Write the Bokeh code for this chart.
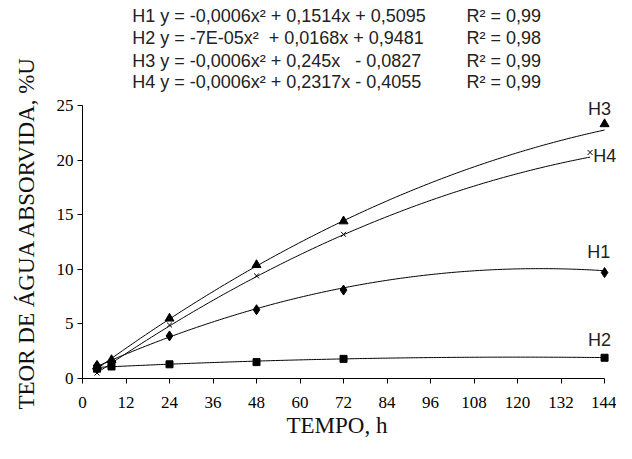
import numpy as np
from bokeh.plotting import figure
from bokeh.models import Label, Range1d, FixedTicker, Title
from bokeh.embed import file_html
from bokeh.resources import INLINE

# ---- data ----
tempo = [4, 8, 24, 48, 72, 144]
tempo_h4 = [4, 8, 24, 48, 72, 140]
h1 = [1.2, 1.5, 3.9, 6.3, 8.1, 9.7]
h2 = [0.9, 1.1, 1.3, 1.5, 1.8, 1.9]
h3 = [1.1, 1.7, 5.5, 10.4, 14.4, 23.3]
h4 = [0.5, 1.4, 4.9, 9.4, 13.2, 20.7]

# polynomial trendline coefficients (a, b, c) shown on the chart
coef_h1 = [-0.0006, 0.1514, 0.5095]
coef_h2 = [-7e-05, 0.0168, 0.9481]
coef_h3 = [-0.0006, 0.245, -0.0827]
coef_h4 = [-0.0006, 0.2317, -0.4055]

eq_texts = [
    "H1 y = -0,0006x\u00b2 + 0,1514x + 0,5095",
    "H2 y = -7E-05x\u00b2 \u00a0+ 0,0168x + 0,9481",
    "H3 y = -0,0006x\u00b2 + 0,245x \u00a0 - 0,0827",
    "H4 y = -0,0006x\u00b2 + 0,2317x - 0,4055",
]
r2_texts = ["R\u00b2 = 0,99", "R\u00b2 = 0,98", "R\u00b2 = 0,99", "R\u00b2 = 0,99"]
series_names = ["H1", "H2", "H3", "H4"]

x_ticks = [0, 12, 24, 36, 48, 60, 72, 84, 96, 108, 120, 132, 144]
y_ticks = [0, 5, 10, 15, 20, 25]
x_title = "TEMPO, h"
y_title = "TEOR DE ÁGUA ABSORVIDA, %U"

serif = "Liberation Serif"
sans = "Liberation Sans"

p = figure(width=616, height=443, output_backend="svg", toolbar_location=None,
           x_range=Range1d(0, 147.29), y_range=Range1d(0, 34.615),
           min_border=0, min_border_left=79, min_border_right=0,
           min_border_top=0, min_border_bottom=65)
p.outline_line_color = None
p.xgrid.visible = False
p.ygrid.visible = False
p.background_fill_color = "white"
p.border_fill_color = "white"

for ax in (p.xaxis[0], p.yaxis[0]):
    ax.major_label_text_font = serif
    ax.major_label_text_font_size = "17px"
    ax.major_label_text_color = "black"
    ax.minor_tick_line_color = None
    ax.major_tick_in = 0
    ax.major_tick_out = 5
    ax.axis_line_color = "black"
    ax.major_tick_line_color = "black"

p.xaxis.ticker = FixedTicker(ticks=x_ticks)
p.yaxis.ticker = FixedTicker(ticks=y_ticks)
p.xaxis.bounds = (0, 144)
p.yaxis.bounds = (0, 25)
p.xaxis.major_label_standoff = 13
p.yaxis.major_label_standoff = 4

# axis titles (side titles, placed like the original)
p.add_layout(Title(text=x_title, align="left", offset=204, standoff=0,
                   vertical_align="bottom",
                   text_font=serif, text_font_size="23px", text_font_style="normal",
                   text_color="#111111"), "below")
p.add_layout(Title(text=y_title, align="left", offset=-31, standoff=26,
                   vertical_align="top",
                   text_font=serif, text_font_size="23px", text_font_style="normal",
                   text_color="#111111"), "left")

# trendlines
for coef, xs in ((coef_h1, tempo), (coef_h2, tempo), (coef_h3, tempo), (coef_h4, tempo_h4)):
    xx = np.linspace(xs[0], xs[-1], 200)
    yy = coef[0] * xx ** 2 + coef[1] * xx + coef[2]
    p.line(xx, yy, line_color="black", line_width=1)

# markers
p.scatter(tempo, h1, marker="diamond", size=10, color="black")
p.scatter(tempo, h2, marker="square", size=7, color="black")
p.scatter(tempo, h3, marker="triangle", size=9, color="black")
p.scatter(tempo_h4, h4, marker="x", size=7, line_color="black", line_width=1)

# equations
eq_y = [33.24, 31.18, 29.12, 27.11]
for t, r, yy in zip(eq_texts, r2_texts, eq_y):
    p.add_layout(Label(x=13.7, y=yy, text=t, text_font=sans, text_font_size="18px",
                       text_baseline="middle", text_color="#222222"))
    p.add_layout(Label(x=105.9, y=yy, text=r, text_font=sans, text_font_size="18px",
                       text_baseline="middle", text_color="#222222"))

# series labels
lab_x = [142.4, 142.6, 142.6, 140.9]
lab_y = [11.54, 3.48, 24.7, 20.42]
lab_align = ["center", "center", "center", "left"]
for name, lx, ly, align in zip(series_names, lab_x, lab_y, lab_align):
    p.add_layout(Label(x=lx, y=ly, text=name, text_font=sans, text_font_size="18px",
                       text_align=align, text_baseline="middle", text_color="#222222"))

open("out.html", "w").write(file_html(p, INLINE))
